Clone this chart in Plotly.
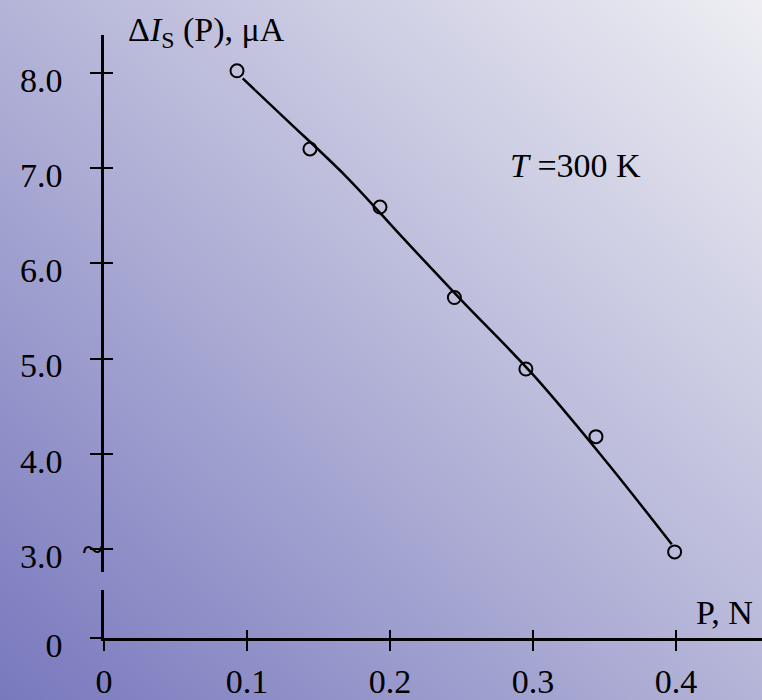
import base64
import plotly.graph_objects as go

# ---- data ----
p_x = [0.093, 0.144, 0.193, 0.245, 0.295, 0.344, 0.399]
p_y = [8.02, 7.20, 6.59, 5.64, 4.89, 4.18, 2.97]

curve_x = [0.097, 0.128, 0.170, 0.210, 0.250, 0.300, 0.350, 0.397]
curve_y = [7.94, 7.50, 6.90, 6.25, 5.61, 4.83, 3.94, 3.05]

x_ticks = [0, 0.1, 0.2, 0.3, 0.4]
x_ticktext = ["0", "0.1", "0.2", "0.3", "0.4"]
y_ticks = [3, 4, 5, 6, 7, 8]
y_ticktext = ["3.0", "4.0", "5.0", "6.0", "7.0", "8.0"]
y_low_ticks = [0]
y_low_ticktext = ["0"]

W, H = 762, 700
FONT = "Liberation Serif"
FS = 34

# background gradient (bottom-left dark -> top-right light) as an SVG image
svg = (f"<svg xmlns='http://www.w3.org/2000/svg' width='{W}' height='{H}' preserveAspectRatio='none'>"
       "<defs><linearGradient id='g' x1='0' y1='1' x2='1' y2='0'>"
       "<stop offset='0' stop-color='rgb(120,120,190)'/>"
       "<stop offset='0.5' stop-color='rgb(180,180,216)'/>"
       "<stop offset='1' stop-color='rgb(238,238,243)'/>"
       f"</linearGradient></defs><rect width='{W}' height='{H}' fill='url(#g)'/></svg>")
bg_src = "data:image/svg+xml;base64," + base64.b64encode(svg.encode()).decode()

fig = go.Figure()
fig.add_trace(go.Scatter(x=curve_x, y=curve_y, mode="lines", line=dict(color="black", width=2.5, shape="spline"),
                         xaxis="x", yaxis="y", showlegend=False, hoverinfo="skip"))
fig.add_trace(go.Scatter(x=p_x, y=p_y, mode="markers",
                         marker=dict(symbol="circle-open", size=13, color="black", line=dict(width=2)),
                         xaxis="x", yaxis="y", showlegend=False, cliponaxis=False))
# invisible helper traces so that every axis (broken lower segment, crossing ticks) is drawn
for xa, ya in [("x", "y2"), ("x2", "y3"), ("x2", "y4")]:
    fig.add_trace(go.Scatter(x=[0], y=[0], mode="markers", marker=dict(opacity=0, size=1),
                             xaxis=xa, yaxis=ya, showlegend=False, hoverinfo="skip"))

x0 = 104 / W
common = dict(showgrid=False, zeroline=False, fixedrange=True, automargin=False,
              tickfont=dict(family=FONT, size=FS, color="black"), tickcolor="black", tickwidth=2)

fig.update_layout(
    template="none",
    width=W, height=H, margin=dict(l=0, r=0, t=0, b=0, pad=0), autosize=False,
    paper_bgcolor="rgba(0,0,0,0)", plot_bgcolor="rgba(0,0,0,0)", showlegend=False,
    images=[dict(source=bg_src, xref="paper", yref="paper", x=0, y=1, sizex=1, sizey=1,
                 xanchor="left", yanchor="top", sizing="stretch", layer="below")],
    xaxis=dict(domain=[x0, 1], range=[0, 0.4601], anchor="y2", showline=True, linecolor="black", linewidth=2.5,
               ticks="outside", ticklen=10, tickvals=x_ticks, ticktext=x_ticktext, ticklabelstandoff=1, **common),
    xaxis2=dict(overlaying="x", range=[0, 0.4601], anchor="y2", showline=False, ticks="inside", ticklen=8,
                tickvals=x_ticks, showticklabels=False, **common),
    yaxis=dict(domain=[128 / H, 665 / H], range=[2.759, 8.396], anchor="x", showline=True, linecolor="black",
               linewidth=2.5, ticks="outside", ticklen=11, tickvals=y_ticks, ticktext=y_ticktext,
               ticklabelstandoff=21, ticklabelshift=7, **common),
    yaxis3=dict(overlaying="y", range=[2.759, 8.396], anchor="x", showline=False, ticks="inside", ticklen=9,
                tickvals=y_ticks, showticklabels=False, **common),
    yaxis2=dict(domain=[62 / H, 110 / H], range=[0, 1], anchor="x", showline=True, linecolor="black",
                linewidth=2.5, ticks="outside", ticklen=11, tickvals=y_low_ticks, ticktext=y_low_ticktext,
                ticklabelstandoff=21, ticklabelshift=7, **common),
    yaxis4=dict(overlaying="y2", range=[0, 1], anchor="x", showline=False, ticks="inside", ticklen=9,
                tickvals=y_low_ticks, showticklabels=False, **common),
)

tf = dict(family=FONT, size=FS, color="black")
fig.add_annotation(text="Δ<i>I</i><sub>S</sub> (P), μA", xref="paper", yref="paper", x=126 / W, y=1 - 32 / H,
                   xanchor="left", yanchor="middle", showarrow=False, font=tf)
fig.add_annotation(text="<i>T</i> =300 K", xref="paper", yref="paper", x=508 / W, y=1 - 166 / H,
                   xanchor="left", yanchor="middle", showarrow=False, font=tf)
fig.add_annotation(text="P, N", xref="paper", yref="paper", x=694 / W, y=1 - 612 / H,
                   xanchor="left", yanchor="middle", showarrow=False, font=tf)
fig.add_annotation(text="~", xref="paper", yref="paper", x=93 / W, y=1 - 549 / H,
                   xanchor="center", yanchor="middle", showarrow=False, font=dict(family=FONT, size=40, color="black"))

fig.write_html("out.html", config={"displayModeBar": False},
               post_script="document.body.style.margin='0px';")
